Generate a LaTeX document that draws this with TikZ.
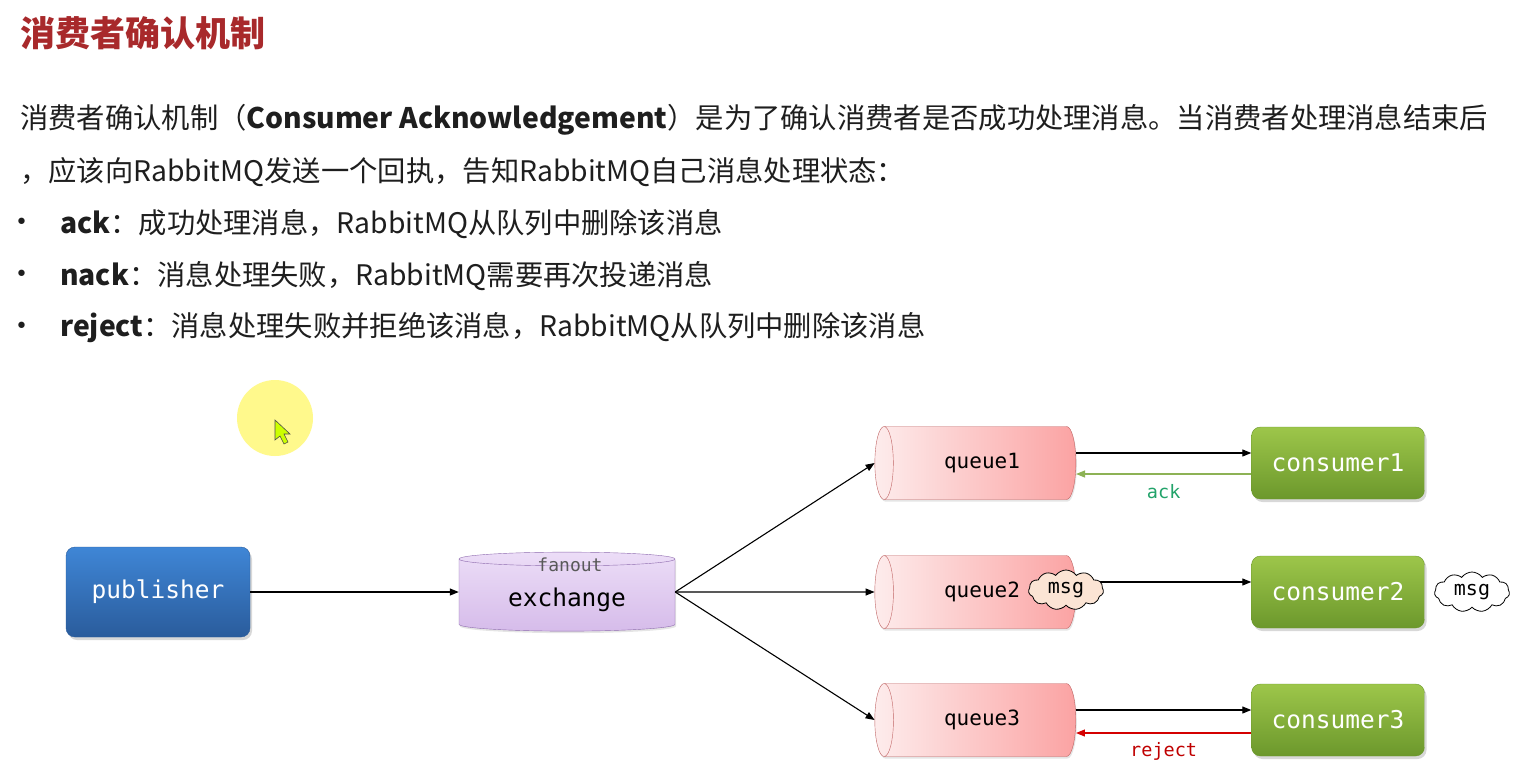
\documentclass[tikz,border=0pt]{standalone}
\usepackage{fontspec}
\setmainfont{Noto Sans CJK SC}
\newfontfamily\mono{DejaVu Sans Mono}
\newfontfamily\dejavu{DejaVu Sans}
\usetikzlibrary{positioning, arrows.meta, shapes.geometric, shapes.symbols, shadows, calc}
\definecolor{titlered}{HTML}{A8292B}
\definecolor{bodytext}{HTML}{1E1E1E}
\definecolor{pubtop}{HTML}{3F86D6}
\definecolor{pubbot}{HTML}{2A5C9C}
\definecolor{constop}{HTML}{9DC64A}
\definecolor{consbot}{HTML}{6C982C}
\definecolor{qlight}{HTML}{FDECEC}
\definecolor{qdark}{HTML}{FBA3A3}
\definecolor{qborder}{HTML}{C06464}
\definecolor{extop}{HTML}{ECDDF7}
\definecolor{exbot}{HTML}{D6BCEA}
\definecolor{exborder}{HTML}{8E6BAE}
\definecolor{msgfill}{HTML}{FBE4D4}
\definecolor{ackline}{HTML}{8DB255}
\definecolor{acktext}{HTML}{22A36A}
\definecolor{rejline}{HTML}{D40000}
\definecolor{rejtext}{HTML}{C00000}
\tikzset{
x=1pt, y=-1pt, % pixel coordinates, y pointing down
>={Triangle[length=9pt,width=7pt]}, % filled arrow heads
link/.style={->, line width=1.1pt}, % the connectors
txt/.style={anchor=west, inner sep=0pt, text=bodytext, font=\fontsize{28.3}{32}\selectfont},
box/.style={rounded corners=9pt, text=white, font=\mono\fontsize{24.5}{28}\selectfont,
  drop shadow={opacity=0.3, shadow xshift=2pt, shadow yshift=-3pt}},
pubbox/.style={box, minimum width=184pt, minimum height=90pt, top color=pubtop, bottom color=pubbot, draw=pubbot},
consbox/.style={box, minimum width=173pt, minimum height=72pt, top color=constop, bottom color=consbot, draw=consbot},
queue/.style={cylinder, shape border rotate=180, shape aspect=0.7, draw=qborder, left color=qlight, right color=qdark,
  minimum height=201pt, minimum width=73pt, font=\mono\fontsize{21}{24}\selectfont,
  drop shadow={opacity=0.2, shadow xshift=1pt, shadow yshift=-2pt}},
exch/.style={cylinder, shape border rotate=90, shape aspect=0.11, draw=exborder, top color=extop, bottom color=exbot,
  minimum width=216pt, minimum height=79pt, font=\mono\fontsize{24.5}{28}\selectfont,
  drop shadow={opacity=0.2, shadow xshift=1pt, shadow yshift=-2pt}},
msg/.style={cloud, cloud puffs=11, cloud puff arc=110, aspect=2.2, draw, line width=0.8pt, minimum width=75pt, minimum height=40pt,
  inner sep=0pt, font=\mono\fontsize{20}{22}\selectfont},
reply/.style={font=\mono\fontsize{18.5}{20}\selectfont, inner sep=0pt},
}
\begin{document}
\begin{tikzpicture}
\useasboundingbox[fill=white] (0,0) rectangle (1519,764);

% heading and text
\node[anchor=west, inner sep=0pt, text=titlered, font=\fontsize{35}{38}\bfseries\selectfont] (title) at (20,33) {消费者确认机制};
\node[txt] (line1) at (20,120) {消费者确认机制（\textbf{Consumer Acknowledgement}）是为了确认消费者是否成功处理消息。当消费者处理消息结束后};
\node[txt] (line2) at (20,172) {，应该向RabbitMQ发送一个回执，告知RabbitMQ自己消息处理状态：};
\foreach \y/\word/\rest [count=\i] in {224/ack/成功处理消息，RabbitMQ从队列中删除该消息,
    276/nack/消息处理失败，RabbitMQ需要再次投递消息,
    328/reject/消息处理失败并拒绝该消息，RabbitMQ从队列中删除该消息}{
  \node[txt, font=\dejavu\fontsize{22}{24}\selectfont] (dot\i) at (15,\y) {•};
  \node[txt] (item\i) at (60,\y) {\textbf{\word}：\rest};
}

% pointer highlight
\fill[yellow!45] (275,418) circle[radius=38pt];
\filldraw[fill=lime!80!yellow, draw=black!70, line width=0.6pt] (275,420) -- (275,440) -- (280,436) -- (284,444) -- (288,442) -- (284,434) -- (290,434) -- cycle;

% the nodes
\node[pubbox] (pub) at (158,592) {publisher};
\node[exch] (ex) at (567,596) {\phantom{exchange}};
\node[font=\mono\fontsize{24.5}{28}\selectfont, inner sep=0pt] (exname) at (567,600) {exchange};
\node[font=\mono\fontsize{18}{20}\selectfont, text=black!65, inner sep=0pt] (fan) at (570,565) {fanout};
\foreach \i/\y in {1/463, 2/592, 3/720}{
  \node[queue] (q\i) at (982,\y) {queue\i};
  \node[consbox] (c\i) at (1338,\y) {consumer\i};
}

% the connectors
\draw[link] (pub) -- (pub -| ex.west);
\foreach \i in {1,2,3}{
  \draw[link] ([yshift=4pt]ex.east) -- (q\i.west);
  \draw[link] ([yshift=10pt]q\i.east) -- ([yshift=10pt]c\i.west);
}
\draw[link, ackline] ([yshift=-11pt]c1.west) -- ([yshift=-11pt]q1.east) node[reply, text=acktext, midway, below=10pt] (ack) {ack};
\draw[link, rejline] ([yshift=-13pt]c3.west) -- ([yshift=-13pt]q3.east) node[reply, text=rejtext, midway, below=9pt] (rej) {reject};

% messages
\node[msg, fill=msgfill] (m1) at (1066,590) {msg};
\node[msg, fill=white] (m2) at (1472,592) {msg};
\end{tikzpicture}
\end{document}
